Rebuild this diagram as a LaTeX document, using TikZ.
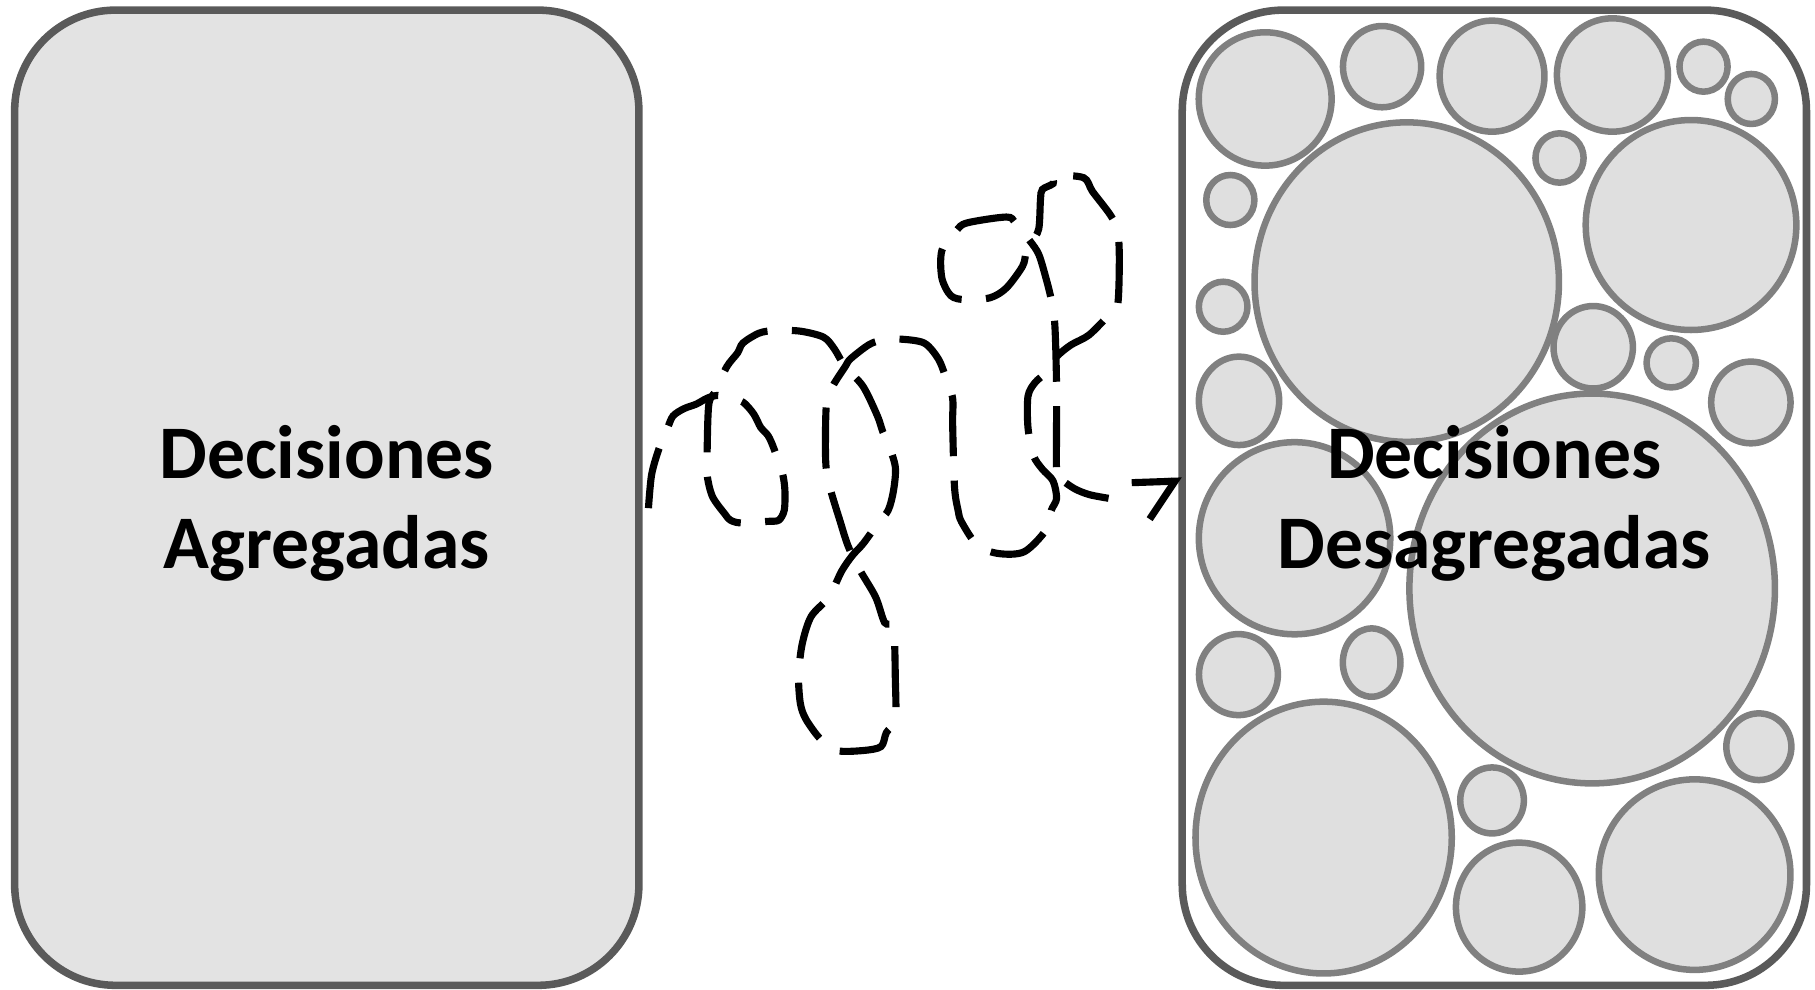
\documentclass[tikz,border=0pt]{standalone}
\usepackage{fontspec}
\setmainfont{Carlito}
\usetikzlibrary{arrows.meta}
\definecolor{boxline}{HTML}{5A5A5A}
\definecolor{boxfill}{HTML}{E3E3E3}
\definecolor{bubbleline}{HTML}{808080}
\definecolor{bubblefill}{HTML}{DFDFDF}
\begin{document}
\begin{tikzpicture}[x=0.01cm, y=-0.01cm,
    box/.style={draw=boxline, line width=1.85pt, rounded corners=0.87cm, minimum width=5.39cm, minimum height=8.42cm, inner sep=0pt},
    bubble/.style={draw=bubbleline, fill=bubblefill, line width=1.6pt},
    title/.style={font=\fontsize{18.6}{22.2}\selectfont\bfseries, align=center},
    squiggle/.style={line width=1.75pt, dash pattern=on 15pt off 6pt},
    barb/.style={line width=1.75pt, -{Straight Barb[harpoon, swap, length=2.3mm, width=6.4mm]}}]
    \useasboundingbox (0,0) rectangle (1568,855);
    \node[box, fill=boxfill] (agg) at (282.3,430) {};
    \node[box, fill=white] (desagg) at (1291,430) {};
    % small decisions packed in the right box
    \foreach \cx/\cy/\rx/\ry in {1093/85.5/57.4/57.6, 1194/57.6/33.8/35.1, 1289/65.8/45.3/48,
        1393/64.8/48/49, 1471.7/57.6/20.8/21.6, 1513/85.5/20.4/21.6, 1215.3/243.7/131.5/138,
        1347.3/136.5/20.8/21.3, 1460.9/194.4/91/90.7, 1062.9/172.8/20.8/21.6, 1056.7/265/21/21.6,
        1376.4/300/34.3/35.6, 1443.8/313.5/21.3/21.2, 1512.6/347.7/34.3/35.3, 1070.4/346.3/34.7/38.2,
        1118.4/465/82.7/83, 1375.5/508.4/157.9/168.4, 1069.9/582.8/34.1/35, 1185/572.4/24.9/29.5,
        1519.5/645.1/28.1/28.8, 1289/691.5/27.5/28.5, 1143.5/723.6/110.7/117.4,
        1312.4/783.7/54.6/55.7, 1464/755.6/82.8/82.3}
        \draw[bubble] (\cx,\cy) ellipse ({\rx} and {\ry});
    \node[title] (aggtext) at ([yshift=-0.05cm]agg) {Decisiones\\Agregadas};
    \node[title] (desaggtext) at ([yshift=-0.05cm]desagg) {Decisiones\\Desagregadas};
    % hand-drawn tangle from one box to the other
    \coordinate (tail) at ([shift={(5,9)}]agg.east);
    \coordinate (kink) at (957.7,430.5);
    \coordinate (shaft) at (977.7,417);
    \coordinate (head) at ([shift={(3,-14.5)}]desagg.west);
    \draw[squiggle] plot[smooth] coordinates {(tail) (562.9,410.3) (569.1,388.2) (576.8,369.5)
        (581.5,359.3) (590.8,353.1) (601.6,349.1) (610.9,344) (620.2,341.6) (631,344) (641.9,347.4)
        (651.1,357.6) (657.3,369.5) (663.5,376.3) (668.2,386.5) (675.9,408.6) (678.1,423.9)
        (677.5,440.9) (672.8,449.4) (663.5,450.4) (640.3,451.8) (631,449.4) (626.4,444.3)
        (615.5,429) (610.9,410.3) (610.9,389.9) (612.4,349.1) (618.6,337.2) (627.9,316.8)
        (637.2,304.9) (641.9,296.3) (655.8,287.8) (669.7,285.5) (691.4,286.1) (711.5,291.3)
        (720.8,301.4) (730.1,316.8) (745.6,333.8) (758,359.3) (762.6,372.9) (767.3,383.1)
        (773.5,403.5) (771.9,423.9) (767.3,440.9) (758,452.8) (745.6,469.8) (736.3,480)
        (727,493.6) (716.2,515.7) (700.7,532.7) (693,556.5) (689.9,583.7) (691.4,607.5)
        (696.1,621.1) (708.4,638.1) (722.4,648.4) (745.6,648.4) (761.1,645) (765.7,633)
        (773.5,621.1) (773.5,587.1) (771.9,542.9) (764.2,537.8) (756.4,515.7) (742.5,491.9)
        (732.6,471.5) (725.5,449.4) (717.7,423.9) (714,406.9) (713.1,386.5) (714,349.1)
        (719.3,333.8) (730.1,316.8) (734.8,310) (750.2,298.1) (761.1,294) (776.6,292.9)
        (798.3,296.3) (810.6,310) (816.8,325.3) (823,344) (823,366.1) (824.6,420.5)
        (827.7,440.9) (830.8,451.1) (844.7,471.5) (863.3,478.3) (885,476.6) (903.6,457.9)
        (908.2,440.9) (912.8,430.7) (909.7,415.4) (900.4,405.2) (892.7,393.3) (888.1,369.5)
        (888.1,342.3) (894.3,330.4) (903.6,321.9) (912.8,308.2) (925.2,298) (940.7,289.5)
        (957.7,272.5) (965.5,264) (967,223.2) (965.5,199.4) (959.3,185.8) (943.8,165.4)
        (936.1,153.5) (911.3,151.8) (909.8,158.6) (900.5,163.7) (898.9,172.2) (897.4,197.7)
        (891.2,209.6) (886.5,218.1) (883.4,230) (869.5,248.7) (855.5,257.2) (833.9,258.9)
        (821.5,255.5) (813.7,240.2) (813.7,216.4) (826.1,199.4) (835.4,192.6) (869.5,187.5)
        (877.2,192.6) (889.6,207.9) (897.4,219.8) (903.6,240.2) (908.2,258.9) (911.3,281)
        (912.8,335.5) (912.8,410.3) (915.9,413.7) (928.3,422.2) (941,427.3) (kink)};
    \draw[barb] (shaft) -- (head);
\end{tikzpicture}
\end{document}
